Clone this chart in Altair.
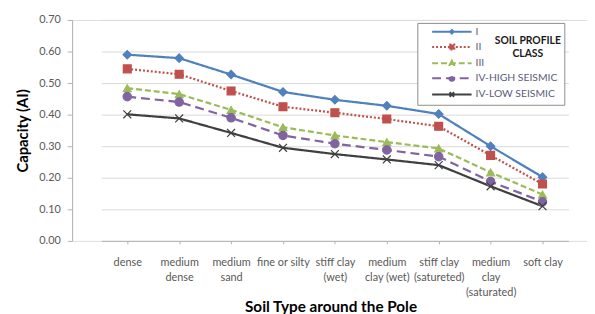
import altair as alt
import pandas as pd

categories = ["dense", "medium\ndense", "medium\nsand", "fine or silty", "stiff clay\n(wet)",
              "medium\nclay (wet)", "stiff clay\n(satureted)", "medium\nclay\n(saturated)", "soft clay"]
series = ["I", "II", "III", "IV-HIGH SEISMIC", "IV-LOW SEISMIC"]
s_I = [0.590, 0.579, 0.527, 0.472, 0.447, 0.428, 0.402, 0.300, 0.202]
s_II = [0.545, 0.528, 0.475, 0.425, 0.406, 0.386, 0.363, 0.271, 0.180]
s_III = [0.484, 0.465, 0.415, 0.360, 0.334, 0.313, 0.293, 0.217, 0.147]
s_IVH = [0.457, 0.440, 0.390, 0.334, 0.308, 0.288, 0.267, 0.188, 0.124]
s_IVL = [0.401, 0.388, 0.342, 0.295, 0.275, 0.258, 0.240, 0.173, 0.110]
y_ticks = [0.0, 0.1, 0.2, 0.3, 0.4, 0.5, 0.6, 0.7]

colors = ["#4F81BD", "#C0504D", "#9BBB59", "#8064A2", "#404040"]
dashes = [[1, 0], [2, 2], [6, 3], [9, 5], [1, 0]]
plot_shapes = ["diamond", "square", "triangle-up", "circle", "M-1,-1L1,1M-1,1L1,-1"]
plot_sizes = [72, 64, 64, 72, 64]
ln = "M1.2,0H9.2"
legend_shapes = [
    ln + "M5.2,-0.35L5.55,0L5.2,0.35L4.85,0Z",
    ln + "M4.7,-0.5H5.7V0.5H4.7Z",
    ln + "M5.2,-0.5L5.65,0.4H4.75Z",
    ln + "M5.7,0A0.5,0.5,0,1,1,4.7,0A0.5,0.5,0,1,1,5.7,0Z",
    ln + "M4.75,-0.45L5.65,0.45M4.75,0.45L5.65,-0.45",
]
legend_title = ["SOIL PROFILE", "CLASS", "", "", ""]

rows = []
for name, vals in zip(series, [s_I, s_II, s_III, s_IVH, s_IVL]):
    for c, v in zip(categories, vals):
        rows.append({"cat": c, "series": name, "value": v})
df = pd.DataFrame(rows)

FONT = "Lato"

x_enc = alt.X("cat:N", sort=categories,
              scale=alt.Scale(type="point", range=[29.6, 503.2]),
              axis=alt.Axis(title="Soil Type around the Pole", labelAngle=0,
                            labelExpr="split(datum.label, '\\n')",
                            labelFont=FONT, labelFontSize=11, labelColor="#595959",
                            labelLineHeight=15, labelPadding=13,
                            tickSize=3, tickColor="#b3b3b3",
                            domainColor="#b3b3b3", grid=False,
                            titleFont=FONT, titleFontSize=15.5, titleFontWeight="bold",
                            titleColor="#000000", titleX=262, titleY=67,
                            titleBaseline="middle", titleAlign="center"))
y_enc = alt.Y("value:Q", scale=alt.Scale(domain=[0, 0.7]),
              axis=alt.Axis(title="Capacity (AI)", values=y_ticks, format=".2f",
                            labelFont=FONT, labelFontSize=11, labelColor="#595959",
                            labelPadding=7, tickSize=5, tickColor="#b3b3b3",
                            domainColor="#b3b3b3", gridColor="#d9d9d9",
                            titleFont=FONT, titleFontSize=15, titleFontWeight="bold",
                            titleColor="#000000", titleX=-50, titleY=112,
                            titleAngle=-90, titleBaseline="middle", titleAlign="center"))

color_scale = alt.Scale(domain=series, range=colors)
dash_scale = alt.Scale(domain=series, range=dashes)

base = alt.Chart(df)

lines = base.mark_line(strokeWidth=2.25).encode(
    x=x_enc, y=y_enc,
    color=alt.Color("series:N", scale=color_scale),
    strokeDash=alt.StrokeDash("series:N", scale=dash_scale),
    detail="series:N",
)

point_layers = []
for name, shp, sz, col in zip(series, plot_shapes, plot_sizes, colors):
    point_layers.append(
        base.transform_filter(alt.datum.series == name).mark_point(
            shape=shp, size=sz, filled=True, color=col, stroke=col,
            strokeWidth=1.2, opacity=1
        ).encode(x=x_enc, y=y_enc)
    )

legend = alt.Legend(
    orient="none", legendX=350, legendY=3,
    title=legend_title, titleOrient="right", titlePadding=-30,
    titleAnchor="middle", titleBaseline="top",
    titleFont=FONT, titleFontSize=10.5, titleFontWeight="bold", titleColor="#1a1a1a",
    titleLineHeight=14, titleAlign="center",
    labelFont=FONT, labelFontSize=10.5, labelColor="#5b5b78", labelOffset=44,
    symbolSize=100, symbolStrokeWidth=2, rowPadding=2.4,
    padding=3, fillColor="#ffffff", strokeColor="#8c8c8c",
)

legend_layer = base.mark_point(filled=True, strokeWidth=2, opacity=1).encode(
    color=alt.Color("series:N", scale=color_scale, legend=legend),
    stroke=alt.Stroke("series:N", scale=color_scale, legend=legend),
    strokeDash=alt.StrokeDash("series:N", scale=dash_scale, legend=legend),
    shape=alt.Shape("series:N", scale=alt.Scale(domain=series, range=legend_shapes), legend=legend),
).transform_filter("false")

chart = alt.layer(lines, *point_layers, legend_layer).properties(
    width=522, height=224,
    autosize=alt.AutoSizeParams(type="none"),
    padding={"left": 65, "top": 10, "right": 0, "bottom": 72},
).configure_view(stroke=None).configure(background="#ffffff")

chart.save("out.html", embed_options={"renderer": "svg", "actions": False})
